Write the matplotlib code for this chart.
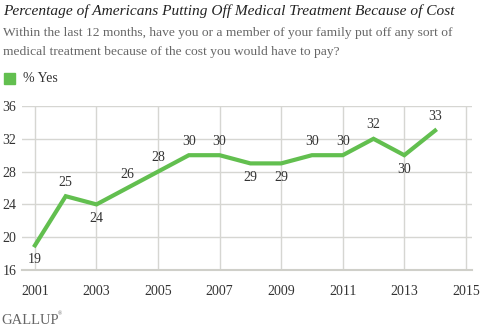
import matplotlib
matplotlib.use("Agg")
import matplotlib.pyplot as plt
from matplotlib.patches import Rectangle

years = [2001, 2002, 2003, 2004, 2005, 2006, 2007, 2008, 2009, 2010, 2011, 2012, 2013, 2014]
pct_yes = [19, 25, 24, 26, 28, 30, 30, 29, 29, 30, 30, 32, 30, 33]
# where the value label sits: 1 above the line, -1 below
label_side = [-1, 1, -1, 1, 1, 1, 1, -1, -1, 1, 1, 1, -1, 1]
xticks = [2001, 2003, 2005, 2007, 2009, 2011, 2013, 2015]
yticks = [16, 20, 24, 28, 32, 36]

green = '#62bf4f'
grid_c = '#d6d6d2'
text_c = '#333333'
serif = 'Liberation Serif'

fig = plt.figure(figsize=(4.83, 3.27), dpi=100)
ax = fig.add_axes([22/483, 1-270/327, 450/483, 164/327])

ax.plot(years, pct_yes, color=green, lw=3, solid_joinstyle='miter', zorder=3)
for x, y, s in zip(years, pct_yes, label_side):
    ax.annotate(str(y), (x, y), xytext=(0, 10*s), textcoords='offset points',
                ha='center', va='center', fontsize=10, family=serif, color=text_c)

ax.set_xlim(2000.58, 2015.2)
ax.set_ylim(16, 36)
ax.set_xticks(xticks)
ax.set_yticks(yticks)
ax.grid(True, color=grid_c, lw=1)
ax.set_axisbelow(True)
for sp in ['top', 'right', 'left']:
    ax.spines[sp].set_visible(False)
ax.spines['bottom'].set_color('#cfcfc9')
ax.spines['bottom'].set_linewidth(1.5)
ax.tick_params(length=0, labelsize=10, colors=text_c, pad=4)
ax.tick_params(axis='x', pad=11)
for lab in ax.get_xticklabels() + ax.get_yticklabels():
    lab.set_family(serif)

fig.text(3/483, 1-11/327, 'Percentage of Americans Putting Off Medical Treatment Because of Cost',
         fontsize=11.05, family=serif, style='italic', color='#222222', va='center')
fig.text(3/483, 1-33/327, 'Within the last 12 months, have you or a member of your family put off any sort of',
         fontsize=9.7, family=serif, color='#666666', va='center')
fig.text(3/483, 1-52/327, 'medical treatment because of the cost you would have to pay?',
         fontsize=9.7, family=serif, color='#666666', va='center')
fig.patches.append(Rectangle((4/483, 1-84/327), 11/483, 11/327, transform=fig.transFigure,
                             color=green, figure=fig))
fig.text(23/483, 1-78/327, '% Yes', fontsize=10, family=serif, color=text_c, va='center')
fig.text(1/483, 1-320/327, 'GALLUP', fontsize=10.5, family=serif, color='#666666', va='center')
fig.text(58/483, 1-314/327, '\u00ae', fontsize=4, family=serif, color='#666666', va='center')

fig.savefig('out.png', dpi=100)
